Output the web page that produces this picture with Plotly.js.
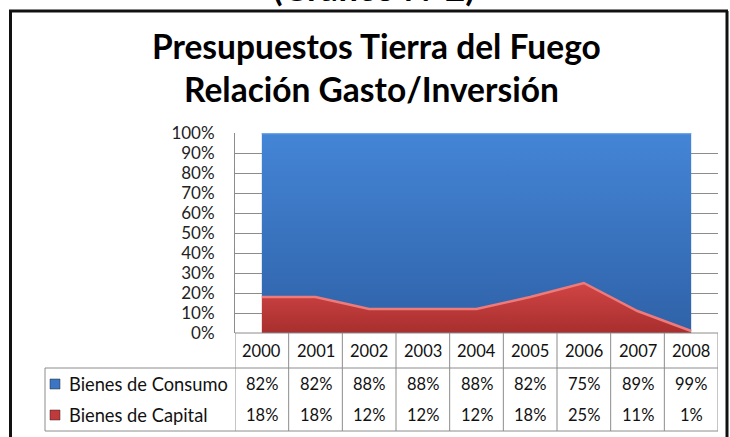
<!DOCTYPE html>
<html>
<head>
<meta charset="utf-8">
<script src="https://cdn.plot.ly/plotly-3.0.1.min.js"></script>
<style>html,body{margin:0;padding:0;background:#fff;}#chart{width:730px;height:437px;}</style>
</head>
<body>
<div id="chart"></div>
<script>
const years = ['2000','2001','2002','2003','2004','2005','2006','2007','2008'];
const seriesNames = ['Bienes de Consumo', 'Bienes de Capital'];
const consumo = [82, 82, 88, 88, 88, 82, 75, 89, 99];
const capital = [18, 18, 12, 12, 12, 18, 25, 11, 1];
const titleLines = ['Presupuestos Tierra del Fuego', 'Relación Gasto/Inversión'];
const docHeading = '(Gráfico N°2)';

const W = 730, H = 437;
const px = v => v / W;
const py = v => 1 - v / H;
const FONT = 'Lato, "Open Sans", sans-serif';
const GRID = '#8C8C8C';

const traces = [
  {
    x: years, y: capital, name: seriesNames[1], type: 'scatter', mode: 'lines',
    stackgroup: 'one', line: {color: '#EE7A7A', width: 2.5},
    fillgradient: {type: 'vertical', start: 0, stop: 25,
      colorscale: [[0, '#A82E2E'], [1, '#D14545']]},
    fillcolor: '#C03A3A', hoverinfo: 'skip'
  },
  {
    x: years, y: consumo, name: seriesNames[0], type: 'scatter', mode: 'lines',
    stackgroup: 'one', line: {color: '#6FA6EC', width: 2.5},
    fillgradient: {type: 'vertical', start: 0, stop: 100,
      colorscale: [[0, '#2F62A8'], [1, '#4485D6']]},
    fillcolor: '#3B76C4', hoverinfo: 'skip'
  }
];

const shapes = [];
const annotations = [];
const line = (x0, y0, x1, y1, xref, color, width) => ({
  type: 'line', xref: xref || 'paper', yref: 'paper',
  x0: x0, y0: y0, x1: x1, y1: y1,
  line: {color: color || GRID, width: width || 1}, layer: 'above'
});

// table lines
shapes.push(line(px(235), py(333), px(718), py(333)));
shapes.push(line(px(45), py(368), px(718), py(368)));
shapes.push(line(px(45), py(431), px(718), py(431)));
shapes.push(line(px(45), py(368), px(45), py(431)));
for (let i = 0; i <= years.length; i++) {
  shapes.push(line(i - 0.5, py(333), i - 0.5, py(431), 'x'));
}

// outer document frame
shapes.push(line(px(10.5), py(11), px(10.5), py(440), 'paper', '#111', 3));
shapes.push(line(px(9), py(11), px(728), py(11), 'paper', '#111', 3));
shapes.push(line(px(727), py(11), px(727), py(440), 'paper', '#111', 3));

// legend keys in table
const keyColors = ['#3A76C4', '#C0393B'];
const rowY = [384, 415];
rowY.forEach((y, k) => {
  shapes.push({type: 'rect', xref: 'paper', yref: 'paper',
    x0: px(50), x1: px(60), y0: py(y + 5), y1: py(y - 5),
    fillcolor: keyColors[k], line: {color: '#2b2b2b', width: 0.5}, layer: 'above'});
  annotations.push({xref: 'paper', yref: 'paper', x: px(67), y: py(y),
    xanchor: 'left', yanchor: 'middle', showarrow: false, text: seriesNames[k],
    font: {family: FONT, size: 18.3, color: '#111'}});
});

const rows = [consumo, capital];
years.forEach((yr, i) => {
  annotations.push({xref: 'x', yref: 'paper', x: i, y: py(351), xanchor: 'center', yanchor: 'middle',
    showarrow: false, text: yr, font: {family: FONT, size: 16.5, color: '#111'}});
  rows.forEach((r, k) => {
    annotations.push({xref: 'x', yref: 'paper', x: i, y: py(rowY[k]), xanchor: 'center', yanchor: 'middle',
      showarrow: false, text: r[i] + '%', font: {family: FONT, size: 16.5, color: '#111'}});
  });
});

annotations.push({xref: 'paper', yref: 'paper', x: px(374), y: py(10), xanchor: 'center', yanchor: 'bottom',
  showarrow: false, text: '<b>' + docHeading + '</b>', font: {family: FONT, size: 35, color: '#000'}});

// chart title lines
const titleY = [46, 89];
titleLines.forEach((t, k) => {
  annotations.push({xref: 'paper', yref: 'paper', x: px(k === 0 ? 376 : 371), y: py(titleY[k]),
    xanchor: 'center', yanchor: 'middle', showarrow: false, text: '<b>' + t + '</b>',
    font: {family: FONT, size: 33.5, color: '#000'}});
});

const layout = {
  width: W, height: H,
  margin: {l: 0, r: 0, t: 0, b: 0},
  paper_bgcolor: '#fff', plot_bgcolor: '#fff',
  showlegend: false,
  xaxis: {type: 'category', domain: [px(235), px(718)], range: [-0.5, 8.5],
    showgrid: false, showline: false, zeroline: false, showticklabels: false, ticks: '', fixedrange: true},
  yaxis: {domain: [py(333), py(133)], range: [0, 100], dtick: 10, ticksuffix: '%',
    showgrid: true, gridcolor: GRID, gridwidth: 1, zeroline: false,
    showline: true, linecolor: GRID, linewidth: 1, ticks: '', ticklabelstandoff: 16,
    tickfont: {family: FONT, size: 17, color: '#222'}, fixedrange: true},
  shapes: shapes,
  annotations: annotations
};

Plotly.newPlot('chart', traces, layout, {displayModeBar: false, staticPlot: true});
</script>
</body>
</html>
